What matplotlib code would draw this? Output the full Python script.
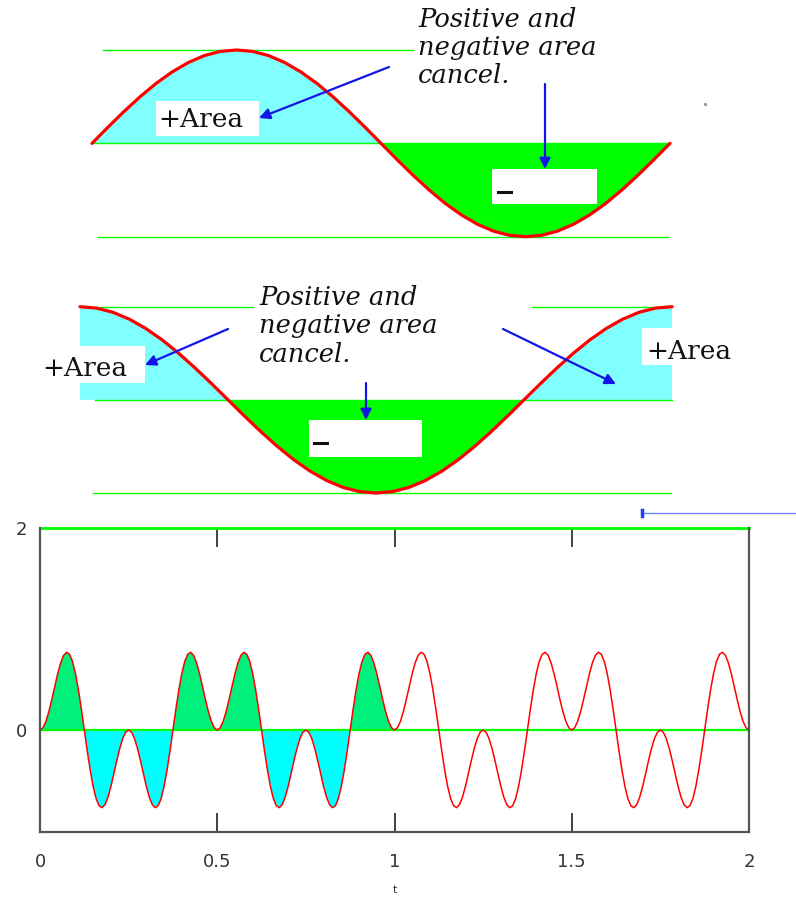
import numpy as np
import matplotlib.pyplot as plt
from matplotlib.patches import Rectangle

W, H = 796, 898

# ----------------------------
# Data
# ----------------------------
# top two panels: one full cycle, sampled every 10 degrees
phase_deg = np.arange(0, 361, 10)
sine_vals = [0, .174, .342, .5, .643, .766, .866, .940, .985, 1,
             .985, .940, .866, .766, .643, .5, .342, .174, 0,
             -.174, -.342, -.5, -.643, -.766, -.866, -.940, -.985, -1,
             -.985, -.940, -.866, -.766, -.643, -.5, -.342, -.174, 0]
cos_vals = [1, .985, .940, .866, .766, .643, .5, .342, .174, 0,
            -.174, -.342, -.5, -.643, -.766, -.866, -.940, -.985, -1,
            -.985, -.940, -.866, -.766, -.643, -.5, -.342, -.174, 0,
            .174, .342, .5, .643, .766, .866, .940, .985, 1]

# bottom chart: one repeat (0 .. 0.5) sampled every 1/120, repeats 4 times up to t=2
period_vals = [0, .022, .085, .182, .302, .433, .559, .665, .739, .769, .75, .679, .559, .398, .207,
               0, -.207, -.398, -.559, -.679, -.75, -.769, -.739, -.665, -.559, -.433, -.302, -.182, -.085, -.022,
               0, -.022, -.085, -.182, -.302, -.433, -.559, -.665, -.739, -.769, -.75, -.679, -.559, -.398, -.207,
               0, .207, .398, .559, .679, .75, .769, .739, .665, .559, .433, .302, .182, .085, .022]
n_repeats = 4
t_step = 1 / 120
fill_until = 1.0
x_ticks = [0, 0.5, 1, 1.5, 2]
x_tick_labels = ["0", "0.5", "1", "1.5", "2"]
y_ticks = [0, 2]
y_tick_labels = ["0", "2"]

f_vals = np.array(period_vals * n_repeats + [0])
t_vals = np.arange(len(f_vals)) * t_step

RED = "#ff0000"
LINE_GREEN = "#00ff00"
POS_CYAN = "#80ffff"
NEG_GREEN = "#00ff00"
BLUE = "#1414e6"


def px_axes(fig, x0, y0, x1, y1):
    """axes placed by pixel box (top-left origin)"""
    return fig.add_axes([x0 / W, 1 - y1 / H, (x1 - x0) / W, (y1 - y0) / H])


fig = plt.figure(figsize=(W / 100, H / 100), dpi=100)
fig.patch.set_facecolor("white")

# ----------------------------
# Panel 1: sine
# ----------------------------
ax1 = px_axes(fig, 92, 50, 670, 236.7)
ax1.set_xlim(0, 360)
ax1.set_ylim(-1, 1)
s = np.array(sine_vals)
ax1.fill_between(phase_deg, s, 0, where=s >= 0, interpolate=True, color=POS_CYAN, lw=0)
ax1.fill_between(phase_deg, s, 0, where=s <= 0, interpolate=True, color=NEG_GREEN, lw=0)
ax1.plot([6.9, 200], [1, 1], color=LINE_GREEN, lw=1, clip_on=False)
ax1.plot([0, 360], [0, 0], color=LINE_GREEN, lw=1, clip_on=False)
ax1.plot([3.7, 359], [-1, -1], color=LINE_GREEN, lw=1, clip_on=False)
ax1.plot(phase_deg, s, color=RED, lw=2.3, clip_on=False, solid_capstyle="round")
ax1.axis("off")

# ----------------------------
# Panel 2: cosine
# ----------------------------
ax2 = px_axes(fig, 80, 306.7, 672, 493)
ax2.set_xlim(0, 360)
ax2.set_ylim(-1, 1)
c = np.array(cos_vals)
ax2.fill_between(phase_deg, c, 0, where=c >= 0, interpolate=True, color=POS_CYAN, lw=0)
ax2.fill_between(phase_deg, c, 0, where=c <= 0, interpolate=True, color=NEG_GREEN, lw=0)
ax2.plot([12.2, 105.2], [1, 1], color=LINE_GREEN, lw=1, clip_on=False)
ax2.plot([274.9, 360], [1, 1], color=LINE_GREEN, lw=1, clip_on=False)
ax2.plot([9.1, 360], [0, 0], color=LINE_GREEN, lw=1, clip_on=False)
ax2.plot([7.9, 359.4], [-1, -1], color=LINE_GREEN, lw=1, clip_on=False)
ax2.plot(phase_deg, c, color=RED, lw=2.3, clip_on=False, solid_capstyle="round")
ax2.axis("off")

# ----------------------------
# Bottom chart
# ----------------------------
ax3 = px_axes(fig, 40, 528, 749, 832)
ax3.set_xlim(0, 2)
ax3.set_ylim(-1.01, 2)
mask = t_vals <= fill_until + 1e-9
ax3.fill_between(t_vals[mask], f_vals[mask], 0, where=f_vals[mask] >= 0,
                 interpolate=True, color="#00f07c", lw=0)
ax3.fill_between(t_vals[mask], f_vals[mask], 0, where=f_vals[mask] <= 0,
                 interpolate=True, color="#00ffff", lw=0)
ax3.axhline(0, color=LINE_GREEN, lw=1.6)
ax3.axhline(2, color=LINE_GREEN, lw=2, clip_on=False)
ax3.plot(t_vals, f_vals, color=RED, lw=1.1)

for side in ["left", "bottom", "right"]:
    ax3.spines[side].set_color("#555555")
    ax3.spines[side].set_linewidth(1.6)
ax3.spines["top"].set_visible(False)

ax3.set_xticks(x_ticks)
ax3.set_xticklabels(x_tick_labels)
ax3.set_yticks(y_ticks)
ax3.set_yticklabels(y_tick_labels)
ax3.tick_params(axis="x", direction="in", length=14, width=1.3, color="#333333",
                top=True, pad=15, labelsize=13, labelcolor="#333333")
ax3.tick_params(axis="y", length=0, pad=9, labelsize=13, labelcolor="#333333")
ax3.set_xlabel("t", fontsize=8, labelpad=10, color="#333333")

# ----------------------------
# Annotations (pixel overlay)
# ----------------------------
ov = fig.add_axes([0, 0, 1, 1])
ov.set_xlim(0, W)
ov.set_ylim(H, 0)
ov.axis("off")
ov.patch.set_alpha(0)

note = ["Positive and", "negative area", "cancel."]
note_kw = dict(family="DejaVu Serif", style="italic", fontsize=18.5, color="#111111",
               va="baseline", ha="left")
for i, line in enumerate(note):
    ov.text(418, 27 + 28 * i, line, **note_kw)
    ov.text(259, 305 + 28.5 * i, line, **note_kw)

area_kw = dict(family="DejaVu Serif", fontsize=19, color="#111111", va="baseline", ha="left")
boxes = [(156, 101, 259, 136), (492, 169, 597, 204),
         (40, 346, 145, 383), (309, 420, 422, 457), (642, 328, 745, 365)]
for x0, y0, x1, y1 in boxes:
    ov.add_patch(Rectangle((x0, y0), x1 - x0, y1 - y0, color="white", lw=0))

ov.text(158, 127, "+Area", **area_kw)
ov.text(42, 376, "+Area", **area_kw)
ov.text(646, 359, "+Area", **area_kw)
ov.plot([498, 511], [192, 192], color="#111111", lw=2.2)
ov.plot([314, 327], [443, 443], color="#111111", lw=2.2)

arrows = [((389, 67), (259, 118)), ((545, 84), (545, 169)),
          ((228, 329), (145, 365)), ((366, 383), (366, 420)),
          ((503, 329), (616, 384))]
for (xs, ys), (xe, ye) in arrows:
    ov.annotate("", xy=(xe, ye), xytext=(xs, ys),
                arrowprops=dict(arrowstyle="-|>", color=BLUE, lw=1.6,
                                mutation_scale=16, shrinkA=0, shrinkB=0))

# stray bits from the source page
ov.plot([642, 796], [513, 513], color="#6e84ff", lw=1)
ov.plot([642, 642], [510, 516], color="#2040ff", lw=2.5)
ov.plot([705], [104], marker="s", ms=1.2, color="#999999")

fig.savefig("out.png", dpi=100)
